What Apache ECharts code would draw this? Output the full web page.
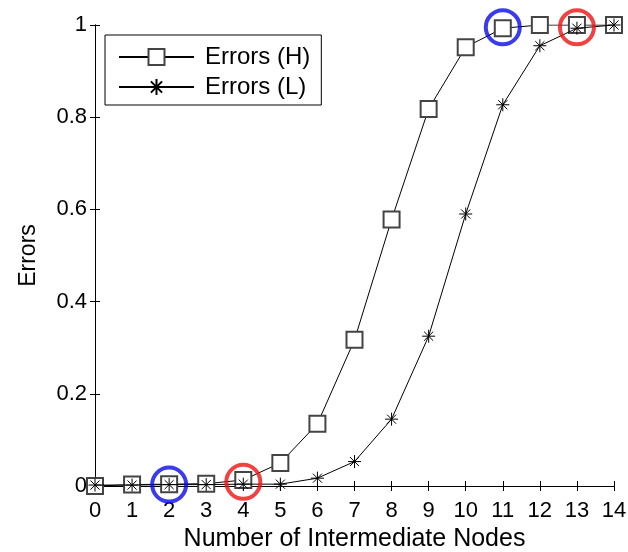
<!DOCTYPE html>
<html>
<head>
<meta charset="utf-8">
<script src="https://cdn.jsdelivr.net/npm/echarts@6/dist/echarts.min.js"></script>
<style>
  html, body { margin: 0; padding: 0; background: #fff; }
  #main { width: 628px; height: 552px; }
</style>
</head>
<body>
<div id="main"></div>
<script>
// chart data
var nodes = [0, 1, 2, 3, 4, 5, 6, 7, 8, 9, 10, 11, 12, 13, 14];
var errorsH = [0, 0.003, 0.004, 0.005, 0.013, 0.05, 0.135, 0.317, 0.578, 0.818, 0.952, 0.993, 1, 1, 1];
var errorsL = [0.002, 0.002, 0.003, 0.003, 0.004, 0.004, 0.017, 0.053, 0.145, 0.325, 0.59, 0.827, 0.955, 0.993, 1];
var blueMarks = [[2, 0.003], [11, 0.995]];
var redMarks = [[4, 0.009], [13, 0.995]];
var yTicks = [0, 0.2, 0.4, 0.6, 0.8, 1];

var font = 'Liberation Sans, Arial, sans-serif';
var star = 'path://M0,-10 L0,10 M-10,0 L10,0 M-7,-7 L7,7 M-7,7 L7,-7';

function pairs(ys) {
  return nodes.map(function (x, i) { return [x, ys[i]]; });
}

var chart = echarts.init(document.getElementById('main'));

chart.setOption({
  animation: false,
  backgroundColor: '#fff',
  grid: { left: 95, right: 14, top: 25, bottom: 66, outerBoundsMode: 'none' },
  legend: {
    orient: 'vertical',
    left: 105,
    top: 35,
    padding: [10, 11, 6, 13],
    itemWidth: 75,
    itemHeight: 20,
    itemGap: 6,
    borderColor: '#000',
    borderWidth: 1,
    backgroundColor: '#fff',
    textStyle: { fontFamily: font, fontSize: 24, lineHeight: 24, color: '#000', padding: [0, 0, 0, 6] },
    data: ['Errors (H)', 'Errors (L)']
  },
  xAxis: [{
    type: 'value', min: 0, max: 14, interval: 1,
    name: 'Number of Intermediate Nodes',
    nameLocation: 'middle', nameGap: 41,
    nameTextStyle: { fontFamily: font, fontSize: 25, color: '#000' },
    axisLine: { lineStyle: { color: '#000', width: 1 } },
    axisTick: { inside: true, length: 5, lineStyle: { color: '#000' } },
    axisLabel: { fontFamily: font, fontSize: 22, color: '#000', margin: 14 },
    splitLine: { show: false }
  }, {
    type: 'value', min: 0, max: 14, interval: 1, position: 'top',
    axisLine: { lineStyle: { color: '#000', width: 1 } },
    axisTick: { inside: true, length: 5, lineStyle: { color: '#000' } },
    axisLabel: { show: false },
    splitLine: { show: false }
  }],
  yAxis: [{
    type: 'value', min: 0, max: 1, interval: 0.2,
    name: 'Errors',
    nameLocation: 'middle', nameGap: 55,
    nameTextStyle: { fontFamily: font, fontSize: 23, color: '#000' },
    axisLine: { show: true, lineStyle: { color: '#000', width: 1 } },
    axisTick: { show: true, inside: true, length: 5, lineStyle: { color: '#000' } },
    axisLabel: {
      fontFamily: font, fontSize: 22, color: '#000', margin: 8,
      formatter: function (v) {
        var t = yTicks.find(function (k) { return Math.abs(k - v) < 1e-9; });
        return t === undefined ? '' : String(t);
      }
    },
    splitLine: { show: false }
  }, {
    type: 'value', min: 0, max: 1, interval: 0.2, position: 'right',
    axisLine: { show: true, lineStyle: { color: '#000', width: 1 } },
    axisTick: { show: true, inside: true, length: 5, lineStyle: { color: '#000' } },
    axisLabel: { show: false },
    splitLine: { show: false }
  }],
  series: [{
    name: 'Errors (H)',
    type: 'line',
    data: pairs(errorsH),
    symbol: 'emptyRect',
    symbolSize: 16,
    showAllSymbol: true,
    lineStyle: { color: '#000', width: 1 },
    itemStyle: { color: '#444', borderWidth: 1 },
    z: 2
  }, {
    name: 'Errors (L)',
    type: 'line',
    data: pairs(errorsL),
    symbol: star,
    symbolSize: 13,
    showAllSymbol: true,
    lineStyle: { color: '#000', width: 1 },
    itemStyle: { color: 'none', borderColor: '#000', borderWidth: 1 },
    z: 3
  }, {
    name: 'blue',
    type: 'scatter',
    data: blueMarks,
    symbol: 'circle',
    symbolSize: 34,
    itemStyle: { color: 'none', borderColor: '#0a0aea', borderWidth: 4 },
    z: 4
  }, {
    name: 'red',
    type: 'scatter',
    data: redMarks,
    symbol: 'circle',
    symbolSize: 34,
    itemStyle: { color: 'none', borderColor: '#ee1111', borderWidth: 4 },
    z: 4
  }]
});
</script>
</body>
</html>
